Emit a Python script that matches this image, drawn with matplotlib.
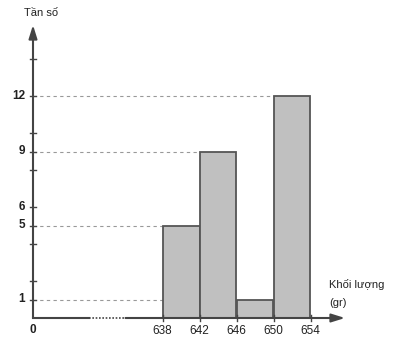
import matplotlib
matplotlib.use("Agg")
import matplotlib.pyplot as plt

plt.rcParams["font.family"] = ["Liberation Sans", "DejaVu Sans"]

# Data
bin_edges = [638, 642, 646, 650, 654]
frequencies = [5, 9, 1, 12]
y_labels = [1, 5, 6, 9, 12]
y_minor = [2, 4, 8, 10, 14]
x_origin = 624  # visual origin of broken axis (labelled "0")

fig = plt.figure(figsize=(3.93, 3.41), dpi=100)
ax = fig.add_axes([0, 0, 1, 1])
xpx = 9.25
ypx = 18.5
ax.set_xlim(x_origin - 33 / xpx, x_origin + 360 / xpx)
ax.set_ylim(-23 / ypx, 318 / ypx)
ax.axis("off")

fill = "#c0c0c0"
edge = "#555555"
dark = "#444444"

# dashed guide lines
for v, l in zip(frequencies, bin_edges[:-1]):
    ax.plot([x_origin, l], [v, v], color="#999999", lw=0.8, ls=(0, (3, 3)), zorder=1)
# bars
for i, f in enumerate(frequencies):
    ax.bar(bin_edges[i], f, width=bin_edges[i + 1] - bin_edges[i], align="edge",
           color=fill, edgecolor=edge, lw=1.3, zorder=2)

# axes
brk0, brk1 = 630, 634
ax.plot([x_origin, brk0], [0, 0], color=dark, lw=1.5, zorder=3)
ax.plot([brk0, brk1], [0, 0], color=dark, lw=1.2, ls=(0, (1, 1)), zorder=3)
ax.annotate("", xy=(x_origin + 312 / xpx, 0), xytext=(brk1, 0),
            arrowprops=dict(arrowstyle="-|>,head_length=0.8,head_width=0.25",
                            color=dark, lw=1.5, shrinkA=0, shrinkB=0), zorder=3)
ax.annotate("", xy=(x_origin, 293 / ypx), xytext=(x_origin, 0),
            arrowprops=dict(arrowstyle="-|>,head_length=0.8,head_width=0.25",
                            color=dark, lw=1.5, shrinkA=0, shrinkB=0), zorder=3)

# ticks
for v in y_labels + y_minor:
    ax.plot([x_origin - 3 / xpx, x_origin + 3 / xpx], [v, v], color=dark, lw=1, zorder=4)
for v in y_labels:
    ax.text(x_origin - 8 / xpx, v, str(v), ha="right", va="center",
            fontsize=8.5, fontweight="bold", color="#222222")
for e in bin_edges:
    ax.plot([e, e], [-3 / ypx, 3 / ypx], color=dark, lw=1, zorder=4)
    ax.text(e, -7 / ypx, str(e), ha="center", va="top", fontsize=8.5, color="#222222")
ax.text(x_origin, -6 / ypx, "0", ha="center", va="top", fontsize=8.5,
        fontweight="bold", color="#222222")

ax.text(x_origin - 9 / xpx, 305 / ypx, "Tần số", ha="left", va="center",
        fontsize=8, color="#222222")
ax.text(x_origin + 296 / xpx, 33 / ypx, "Khối lượng", ha="left", va="center",
        fontsize=8, color="#222222")
ax.text(x_origin + 296 / xpx, 15 / ypx, "(gr)", ha="left", va="center",
        fontsize=8, color="#222222")

fig.savefig("out.png", dpi=100)
